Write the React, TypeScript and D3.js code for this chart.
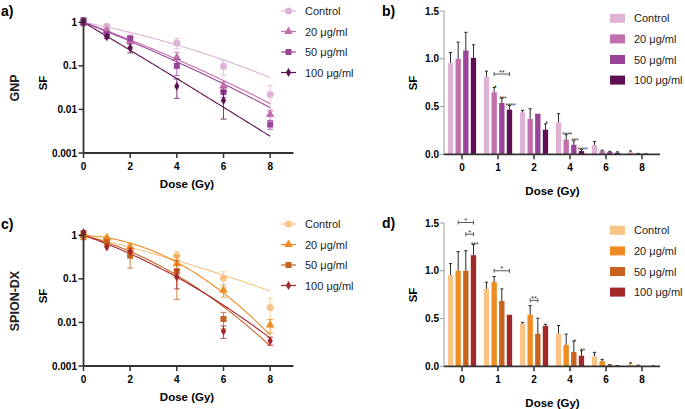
import React from 'react';
import * as d3 from 'd3';

// ---------- data ----------
const doses = [0, 1, 2, 4, 6, 8];
const doseLabels = ['0', '1', '2', '4', '6', '8'];
const seriesNames = ['Control', '20 \u03bcg/ml', '50 \u03bcg/ml', '100 \u03bcg/ml'];
const gnpColors = ['#dfb3d6', '#c36fae', '#9a4499', '#5f1053'];
const spionColors = ['#fbc487', '#ee8c22', '#c7621f', '#a3282a'];

// GNP surviving fraction (mean) per dose
const gnpControl = [0.955, 0.81, 0.44, 0.335, 0.098, 0.022];
const gnp20 = [1.0, 0.65, 0.37, 0.155, 0.035, 0.0076];
const gnp50 = [1.087, 0.537, 0.425, 0.1, 0.025, 0.0045];
const gnp100 = [1.01, 0.467, 0.258, 0.034, 0.016, 0];
// GNP standard deviations
const gnpControlSd = [0.11, 0.06, 0.02, 0.09, 0.037, 0.013];
const gnp20Sd = [0.174, 0.05, 0.107, 0.05, 0.008, 0.002];
const gnp50Sd = [0.19, 0.05, 0.0, 0.04, 0.006, 0.001];
const gnp100Sd = [0.136, 0.045, 0.06, 0.016, 0.01, 0];

// SPION-DX surviving fraction (mean) per dose
const spionControl = [0.955, 0.81, 0.444, 0.34, 0.104, 0.022];
const spion20 = [1.0, 0.882, 0.54, 0.222, 0.055, 0.0087];
const spion50 = [1.0, 0.684, 0.34, 0.149, 0.012, 0];
const spion100 = [1.163, 0.54, 0.424, 0.111, 0.0063, 0.0038];
// SPION-DX standard deviations
const spionControlSd = [0.12, 0.07, 0.016, 0.087, 0.042, 0.014];
const spion20Sd = [0.2, 0.058, 0.095, 0.115, 0.017, 0.003];
const spion50Sd = [0.21, 0.126, 0.163, 0.115, 0.005, 0];
const spion100Sd = [0.111, 0, 0.016, 0.052, 0.002, 0.0008];

// LQ fit coefficients (log10 decrease: alpha*D + beta*D^2)
const gnpAlpha = [0.101, 0.191, 0.208, 0.319];
const gnpBeta = [0.0072, 0.0053, 0.0046, 0.001];
const spionAlpha = [0.13, 0.024, 0.142, 0.185];
const spionBeta = [0.00375, 0.0328, 0.0219, 0.01375];

// significance annotations: [dose index, series index, label]
const gnpStars: [number, number, string][] = [
  [1, 1, '*'], [1, 2, '***'], [1, 3, '****'], [2, 3, '*'],
  [3, 1, '****'], [3, 2, '***'], [3, 3, '****'],
];
const gnpBrackets: [number, number, number, number, string][] = [
  [1, 1, 3, 0.84, '**'],
];
const spionStars: [number, number, string][] = [
  [0, 3, '***'], [3, 2, '*'], [3, 3, '**'],
];
const spionBrackets: [number, number, number, number, string][] = [
  [0, 1, 3, 1.505, '*'], [0, 2, 3, 1.383, '*'], [1, 1, 3, 1.0, '*'], [2, 1, 2, 0.69, '**'],
];

const logTicks = [1, 0.1, 0.01, 0.001];
const logTickLabels = ['1', '0.1', '0.01', '0.001'];
const linTicks = [0, 0.5, 1.0, 1.5];
const linTickLabels = ['0.0', '0.5', '1.0', '1.5'];
const doseTicks = [0, 2, 4, 6, 8];

const FONT = "'Liberation Sans', Arial, Helvetica, sans-serif";
const AXIS = '#333333';
const symbols = [d3.symbolCircle, d3.symbolTriangle, d3.symbolSquare, d3.symbolDiamond];
const symSizes = [40, 32, 36, 24];

type ScatterProps = {
  oy: number;
  means: number[][];
  sds: number[][];
  alpha: number[];
  beta: number[];
  colors: string[];
  tag: string;
  name: string;
};

function ScatterPanel({ oy, means, sds, alpha, beta, colors, tag, name }: ScatterProps) {
  const x = d3.scaleLinear().domain([0, 9]).range([83.5, 293.5]);
  const y = d3.scaleLog().domain([0.001, 1]).range([153 + oy, 22.3 + oy]);
  const fitDoses = d3.range(0, 8.001, 0.1);
  return (
    <g>
      <text x={1} y={16 + oy} fontFamily={FONT} fontWeight="bold" fontSize={14}>{tag}</text>
      <text transform={`translate(18.5,${88 + oy}) rotate(-90)`} textAnchor="middle" fontFamily={FONT} fontSize={12.5} fontWeight="bold" fill="#222">{name}</text>
      <text transform={`translate(46.5,${83 + oy}) rotate(-90)`} textAnchor="middle" fontFamily={FONT} fontSize={11.5} fontWeight="bold">SF</text>
      <text x={187} y={187.5 + oy} textAnchor="middle" fontFamily={FONT} fontSize={11.5} fontWeight="bold">Dose (Gy)</text>
      {/* fit lines */}
      {alpha.map((a, i) => {
        const gen = d3
          .line<number>()
          .x((d) => x(d))
          .y((d) => y(Math.pow(10, -(a * d + beta[i] * d * d))));
        return <path key={'f' + i} d={gen(fitDoses) || ''} fill="none" stroke={colors[i]} strokeWidth={1.1} />;
      })}
      {/* error bars and markers */}
      {means.map((m, si) =>
        m.map((v, di) => {
          if (!(v > 0)) return null;
          const sd = sds[si][di];
          const cx = x(doses[di]);
          const lo = Math.max(v - sd, 0.0012);
          const hi = v + sd;
          const sym = d3.symbol(symbols[si], symSizes[si])();
          return (
            <g key={`p${si}-${di}`}>
              {sd > 0 && (
                <g stroke={colors[si]} strokeWidth={1} opacity={0.8}>
                  <line x1={cx} x2={cx} y1={y(lo)} y2={y(hi)} />
                  <line x1={cx - 3} x2={cx + 3} y1={y(lo)} y2={y(lo)} />
                  <line x1={cx - 3} x2={cx + 3} y1={y(hi)} y2={y(hi)} />
                </g>
              )}
              <path d={sym || ''} transform={`translate(${cx},${y(v)})`} fill={colors[si]} />
            </g>
          );
        })
      )}
      {/* axes */}
      <line x1={x(0)} x2={x(9)} y1={y(0.001)} y2={y(0.001)} stroke={AXIS} strokeWidth={1.8} />
      <line x1={x(0)} x2={x(0)} y1={y(0.001)} y2={y(1.3)} stroke={AXIS} strokeWidth={1.8} />
      {logTicks.map((t, i) => (
        <g key={'yt' + i}>
          <line x1={x(0) - 5} x2={x(0)} y1={y(t)} y2={y(t)} stroke={AXIS} strokeWidth={1.5} />
          <text x={x(0) - 6.5} y={y(t) + 3.6} textAnchor="end" fontFamily={FONT} fontSize={10} fontWeight="bold">{logTickLabels[i]}</text>
        </g>
      ))}
      {doseTicks.map((t) => (
        <g key={'xt' + t}>
          <line x1={x(t)} x2={x(t)} y1={y(0.001)} y2={y(0.001) + 5} stroke={AXIS} strokeWidth={1.5} />
          <text x={x(t)} y={y(0.001) + 17} textAnchor="middle" fontFamily={FONT} fontSize={10} fontWeight="bold">{t}</text>
        </g>
      ))}
      {/* legend */}
      {seriesNames.map((n, i) => {
        const ly = 11 + oy + i * 20.5;
        const sym = d3.symbol(symbols[i], symSizes[i])();
        return (
          <g key={'lg' + i}>
            <line x1={281} x2={296} y1={ly} y2={ly} stroke={colors[i]} strokeWidth={1.2} />
            <path d={sym || ''} transform={`translate(288.5,${ly})`} fill={colors[i]} />
            <text x={305} y={ly + 4} fontFamily={FONT} fontSize={11} fill="#222">{n}</text>
          </g>
        );
      })}
    </g>
  );
}

type BarProps = {
  oy: number;
  means: number[][];
  sds: number[][];
  colors: string[];
  tag: string;
  stars: [number, number, string][];
  brackets: [number, number, number, number, string][];
};

function BarPanel({ oy, means, sds, colors, tag, stars, brackets }: BarProps) {
  const x = d3.scaleBand<string>().domain(doseLabels).range([444, 660]).padding(0);
  const inner = d3
    .scaleBand<number>()
    .domain([0, 1, 2, 3])
    .range([-15.3, 15.3])
    .paddingInner(0.3)
    .paddingOuter(0.15);
  const y = d3.scaleLinear().domain([0, 1.5]).range([154.3 + oy, 11 + oy]);
  const bw = inner.bandwidth();
  const cx = (di: number, si: number) => (x(doseLabels[di]) as number) + x.bandwidth() / 2 + (inner(si) as number) + bw / 2;
  return (
    <g>
      <text x={382} y={16 + oy} fontFamily={FONT} fontWeight="bold" fontSize={14}>{tag}</text>
      <text transform={`translate(417,${83 + oy}) rotate(-90)`} textAnchor="middle" fontFamily={FONT} fontSize={11.5} fontWeight="bold">SF</text>
      <text x={552.5} y={195 + oy} textAnchor="middle" fontFamily={FONT} fontSize={11.5} fontWeight="bold">Dose (Gy)</text>
      {means.map((m, si) =>
        m.map((v, di) => {
          const c = cx(di, si);
          const sd = sds[si][di];
          return (
            <g key={`b${si}-${di}`}>
              {v > 0 && <rect x={c - bw / 2} y={y(v)} width={bw} height={y(0) - y(v)} fill={colors[si]} />}
              {sd > 0 && (
                <g stroke="#2a2a2a" strokeWidth={1}>
                  <line x1={c} x2={c} y1={y(v)} y2={y(v + sd)} />
                  <line x1={c - 1.6} x2={c + 1.6} y1={y(v + sd)} y2={y(v + sd)} />
                </g>
              )}
            </g>
          );
        })
      )}
      {stars.map(([di, si, lab], k) => {
        const top = means[si][di] + sds[si][di];
        return (
          <text key={'s' + k} x={cx(di, si) + 1} y={y(top) + 2.5} textAnchor="middle" fontFamily={FONT} fontSize={7} letterSpacing={-0.3} fill="#333">{lab}</text>
        );
      })}
      {brackets.map(([di, s1, s2, lvl, lab], k) => {
        const x1 = cx(di, s1);
        const x2 = cx(di, s2);
        const yy = y(lvl);
        return (
          <g key={'br' + k} stroke="#444" strokeWidth={0.9}>
            <line x1={x1} x2={x2} y1={yy} y2={yy} />
            <line x1={x1} x2={x1} y1={yy - 2} y2={yy + 2} />
            <line x1={x2} x2={x2} y1={yy - 2} y2={yy + 2} />
            <text x={(x1 + x2) / 2} y={yy + 0.5} textAnchor="middle" fontFamily={FONT} fontSize={7.5} fill="#333" stroke="none">{lab}</text>
          </g>
        );
      })}
      {/* axes */}
      <line x1={444} x2={444} y1={y(0)} y2={y(1.5)} stroke="#9a9a9a" strokeWidth={1} />
      {linTicks.map((t, i) => (
        <g key={'yt' + i}>
          <line x1={440} x2={444} y1={y(t)} y2={y(t)} stroke="#9a9a9a" strokeWidth={1} />
          <text x={439} y={y(t) + 3.6} textAnchor="end" fontFamily={FONT} fontSize={10} fontWeight="bold">{linTickLabels[i]}</text>
        </g>
      ))}
      <line x1={444} x2={660} y1={y(0)} y2={y(0)} stroke={AXIS} strokeWidth={1.8} />
      {doseLabels.map((d) => {
        const c = (x(d) as number) + x.bandwidth() / 2;
        return (
          <g key={'xt' + d}>
            <line x1={c} x2={c} y1={y(0)} y2={y(0) + 5} stroke={AXIS} strokeWidth={1.5} />
            <text x={c} y={y(0) + 17} textAnchor="middle" fontFamily={FONT} fontSize={10} fontWeight="bold">{d}</text>
          </g>
        );
      })}
      {/* legend */}
      {seriesNames.map((n, i) => {
        const ly = 18.3 + oy + i * 20.6;
        return (
          <g key={'lg' + i}>
            <rect x={610} y={ly - 4.5} width={15} height={9} fill={colors[i]} />
            <text x={634} y={ly + 4} fontFamily={FONT} fontSize={11} fill="#222">{n}</text>
          </g>
        );
      })}
    </g>
  );
}

export default function App() {
  const gnpMeans = [gnpControl, gnp20, gnp50, gnp100];
  const gnpSds = [gnpControlSd, gnp20Sd, gnp50Sd, gnp100Sd];
  const spMeans = [spionControl, spion20, spion50, spion100];
  const spSds = [spionControlSd, spion20Sd, spion50Sd, spion100Sd];
  return (
    <svg width={685} height={409} style={{ position: 'absolute', left: 0, top: 0, background: '#fff' }}>
      <rect width={685} height={409} fill="#fff" />
      <ScatterPanel oy={0} means={gnpMeans} sds={gnpSds} alpha={gnpAlpha} beta={gnpBeta} colors={gnpColors} tag="a)" name="GNP" />
      <ScatterPanel oy={213} means={spMeans} sds={spSds} alpha={spionAlpha} beta={spionBeta} colors={spionColors} tag="c)" name="SPION-DX" />
      <BarPanel oy={0} means={gnpMeans} sds={gnpSds} colors={gnpColors} tag="b)" stars={gnpStars} brackets={gnpBrackets} />
      <BarPanel oy={212} means={spMeans} sds={spSds} colors={spionColors} tag="d)" stars={spionStars} brackets={spionBrackets} />
    </svg>
  );
}
